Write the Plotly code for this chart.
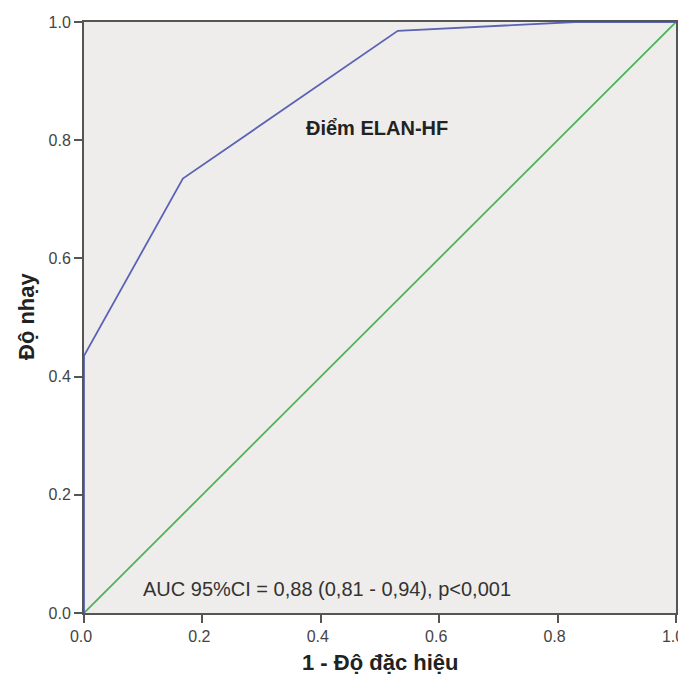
import plotly.graph_objects as go

fpr = [0.0, 0.0, 0.167, 0.53, 0.83, 1.0]
tpr = [0.0, 0.435, 0.735, 0.985, 1.0, 1.0]
ref_x = [0.0, 1.0]
ref_y = [0.0, 1.0]
ticks = [0.0, 0.2, 0.4, 0.6, 0.8, 1.0]
tick_labels = ["0.0", "0.2", "0.4", "0.6", "0.8", "1.0"]

FONT = "Liberation Sans, Arial"

fig = go.Figure()
fig.add_trace(go.Scatter(x=ref_x, y=ref_y, mode="lines",
                         line=dict(color="#4db45a", width=1.8), hoverinfo="skip"))
fig.add_trace(go.Scatter(x=fpr, y=tpr, mode="lines",
                         line=dict(color="#5a64b4", width=1.8), hoverinfo="skip"))

axis_common = dict(range=[0, 1], tickvals=ticks, ticktext=tick_labels,
                   showgrid=False, zeroline=False, showline=True, mirror=True,
                   linecolor="#555555", linewidth=2, ticks="outside", ticklen=8,
                   tickwidth=2, tickcolor="#555555", automargin=False,
                   ticklabeloverflow="allow",
                   tickfont=dict(family=FONT, size=16, color="#444444"))

fig.update_layout(
    width=686, height=666,
    margin=dict(l=76, r=18, t=14, b=61),
    paper_bgcolor="white", plot_bgcolor="#efedeb",
    showlegend=False,
    xaxis=dict(**axis_common, ticklabelshift=-3),
    yaxis=dict(**axis_common),
    annotations=[
        dict(x=0.495, y=0.82, xref="x", yref="y", text="<b>Điểm ELAN-HF</b>",
             xanchor="center", yanchor="middle",
             showarrow=False, font=dict(family=FONT, size=20, color="#222222")),
        dict(x=0.41, y=0.04, xref="x", yref="y",
             text="AUC 95%CI = 0,88 (0,81 - 0,94), p<0,001",
             xanchor="center", yanchor="middle",
             showarrow=False, font=dict(family=FONT, size=20, color="#333333")),
        dict(x=0.5, y=-0.083, xref="paper", yref="paper", text="<b>1 - Độ đặc hiệu</b>",
             xanchor="center", yanchor="middle",
             showarrow=False, font=dict(family=FONT, size=22, color="#222222")),
        dict(x=-0.098, y=0.5025, xref="paper", yref="paper", text="<b>Độ nhạy</b>",
             xanchor="center", yanchor="middle",
             textangle=-90, showarrow=False, font=dict(family=FONT, size=22, color="#222222")),
    ],
)

fig.write_html("out.html")
